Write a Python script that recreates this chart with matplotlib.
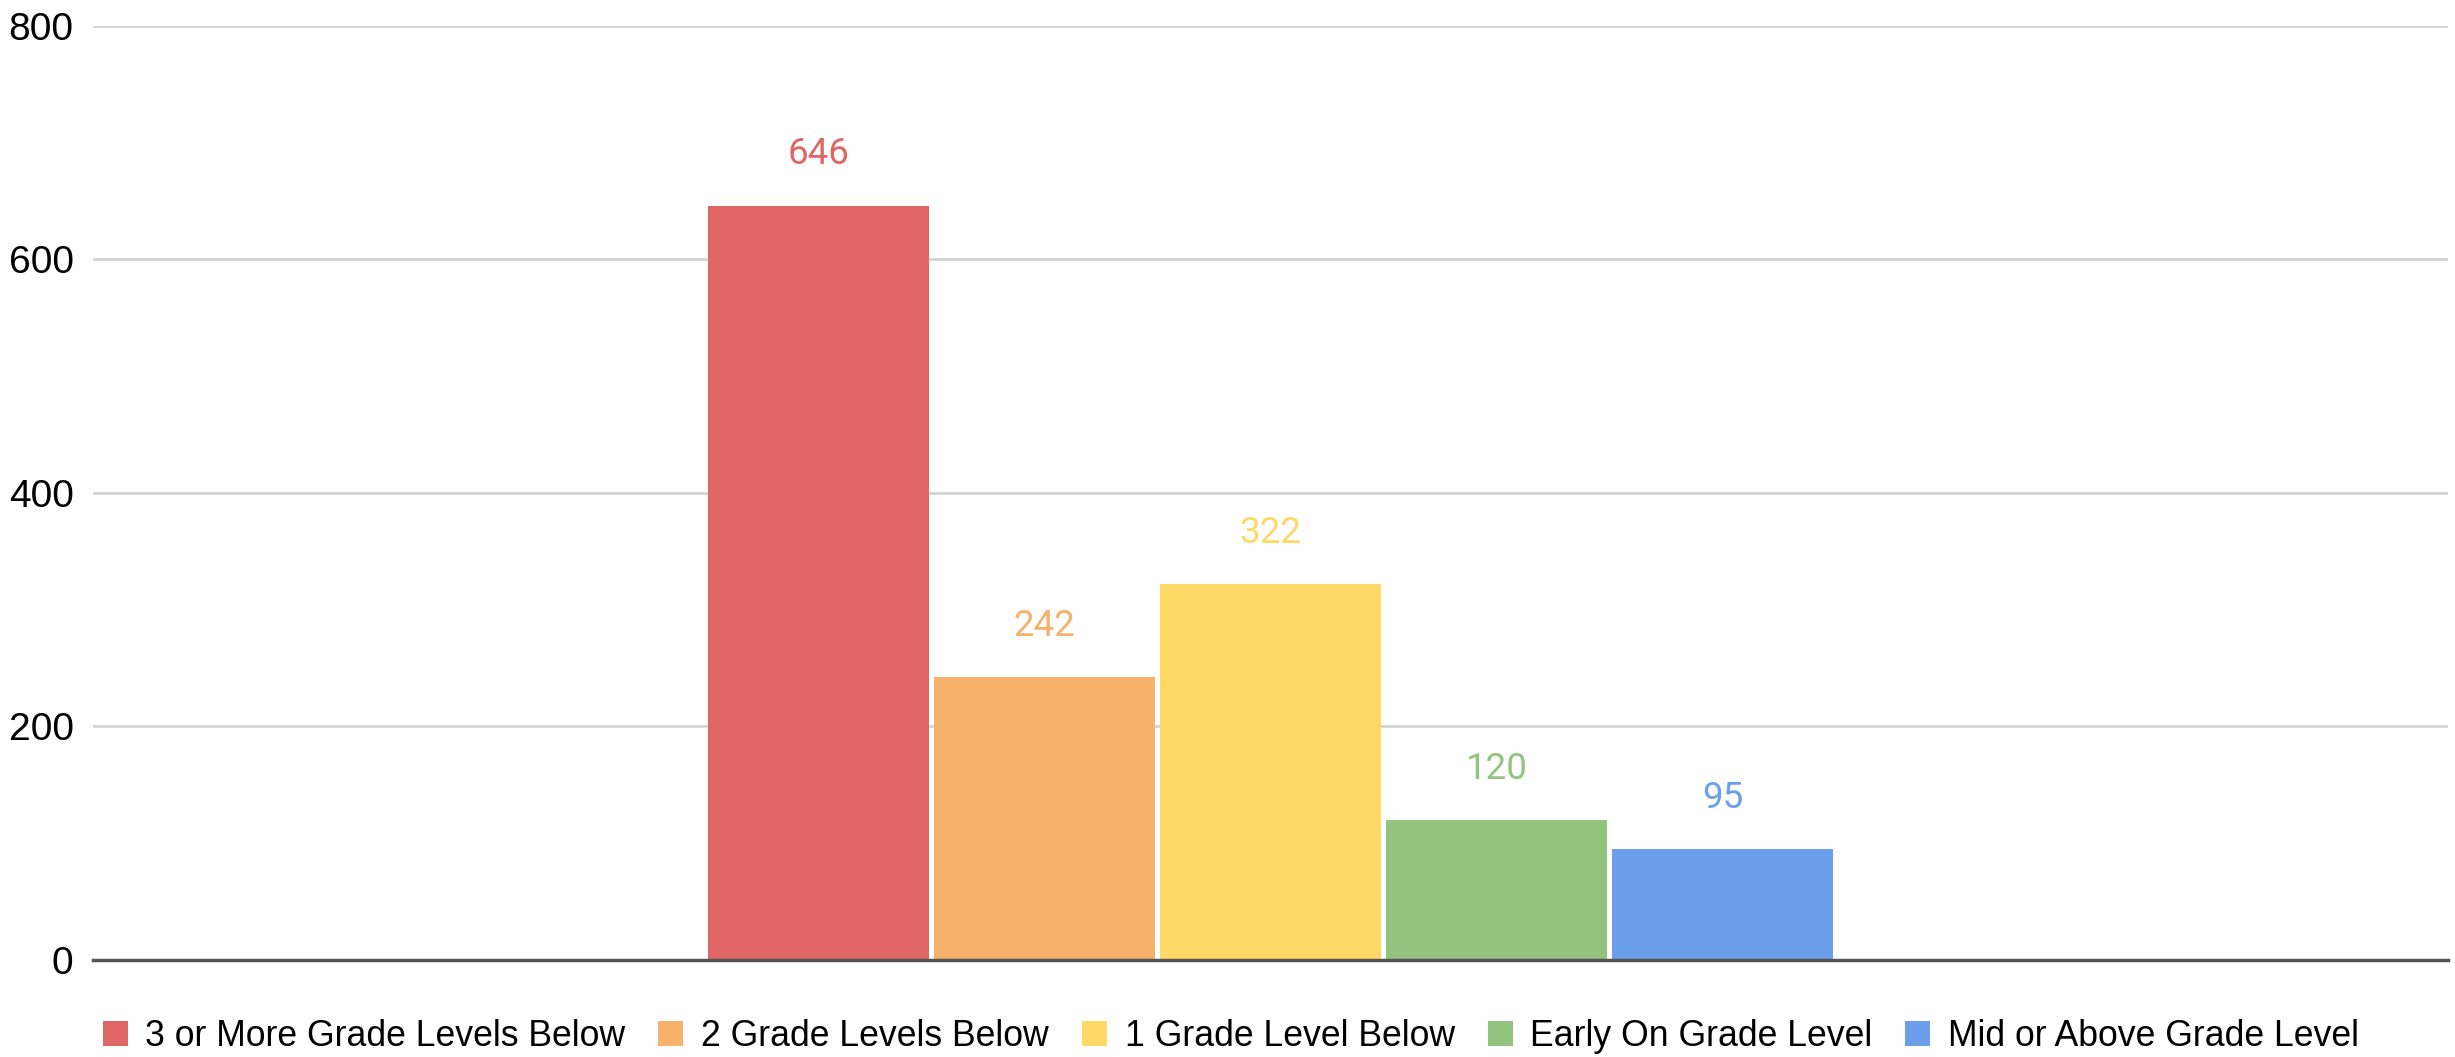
import matplotlib
matplotlib.use("Agg")
import matplotlib.pyplot as plt
import numpy as np
from matplotlib.patches import Patch

# one category, five reading-level groups drawn as a cluster of bars
series = ["3 or More Grade Levels Below", "2 Grade Levels Below",
          "1 Grade Level Below", "Early On Grade Level",
          "Mid or Above Grade Level"]
counts = [646, 242, 322, 120, 95]
colors = ["#E06666", "#F6B26B", "#FFD966", "#93C47D", "#6D9EEB"]
yticks = [0, 200, 400, 600, 800]

fig = plt.figure(figsize=(24.55, 10.57), dpi=100)
ax = fig.add_axes([0.0379, 0.0918, 0.9592, 0.8836])

slot = 0.096
bar_w = 0.094
offsets = (np.arange(len(series)) - (len(series) - 1) / 2) * slot

for off, val, col, name in zip(offsets, counts, colors, series):
    bars = ax.bar(off, val, width=bar_w, color=col, label=name, zorder=3)
    ax.bar_label(bars, labels=[str(val)], padding=24, color=col,
                 fontsize=26.5, family="Roboto")

ax.set_xlim(-0.5, 0.5)
ax.set_ylim(0, 800)
ax.set_xticks([])
ax.set_yticks(yticks)
ax.set_yticklabels([str(t) for t in yticks], family="Liberation Sans", fontsize=28)
ax.tick_params(axis="y", length=0, pad=14)
ax.grid(axis="y", color="#d4d4d4", linewidth=2, zorder=0)
for s in ["top", "right", "left"]:
    ax.spines[s].set_visible(False)
ax.spines["bottom"].set_color("#555555")
ax.spines["bottom"].set_linewidth(2.5)
ax.spines["bottom"].set_zorder(4)

handles = [Patch(facecolor=c, edgecolor="none") for c in colors]
fig.legend(handles, series, loc="center", bbox_to_anchor=(0.5014, 0.019),
           ncol=5, frameon=False, prop={"family": "Liberation Sans", "size": 25.7},
           handlelength=0.7, handleheight=0.7, handletextpad=0.5,
           columnspacing=0.92)

fig.savefig("out.png", dpi=100, facecolor="white")
